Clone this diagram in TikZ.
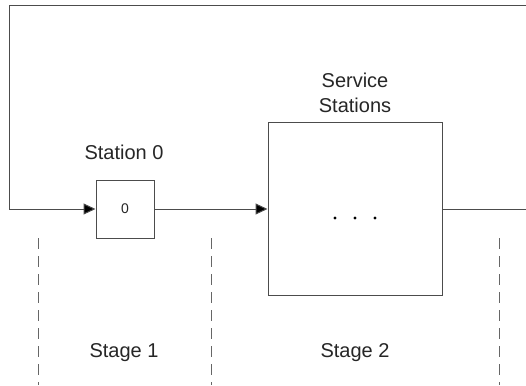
\documentclass[tikz,border=0pt]{standalone}
\usepackage{fontspec}
\setmainfont{Liberation Sans}
\usetikzlibrary{arrows.meta}
\begin{document}
\begin{tikzpicture}[x=1pt,y=-1pt,
  line/.style={draw=black!70, line width=1pt},
  flow/.style={line, -{Triangle[length=12pt,width=11pt,fill=black]}},
  box/.style={draw=black!70, line width=1pt, fill=white, inner sep=0pt},
  divider/.style={draw=black!60, line width=0.9pt, dash pattern=on 11pt off 7pt},
  lbl/.style={font=\fontsize{20}{25}\selectfont, text=black!85, align=center, inner sep=0pt}]
\useasboundingbox (0,0) rectangle (526,385);
% nodes
\node[box, minimum width=58pt, minimum height=58pt] (s0) at (125,209) {};
\node[lbl, font=\fontsize{14}{17}\selectfont] (s0t) at (125,209) {0};
\node[box, minimum width=174pt, minimum height=173pt] (ss) at (355,208.5) {};
\node[lbl] (s0lab) at (124,152) {Station 0};
\node[lbl] (sslab) at (355,93) {Service\\Stations};
\node[lbl] (st1) at (124,353) {Stage 1};
\node[lbl] (st2) at (355,353) {Stage 2};
% dots
\fill[black] (335,218) circle (1.7pt);
\fill[black] (355,218) circle (1.7pt);
\fill[black] (375,218) circle (1.7pt);
% coordinates
\coordinate (tr) at (526,6);
\coordinate (tl) at (9,6);
\coordinate (bl) at (9,209);
\coordinate (out) at (526,209);
% connectors
\draw[line] (tr) -- (tl) -- (bl);
\draw[flow] (bl) -- (s0.west);
\draw[flow] (s0.east) -- (ss.west |- s0.east);
\draw[line] (ss.east |- s0.east) -- (out);
% dividers
\coordinate (d1a) at (38,238); \coordinate (d1b) at (38,385);
\coordinate (d2a) at (211,238); \coordinate (d2b) at (211,385);
\coordinate (d3a) at (499,238); \coordinate (d3b) at (499,385);
\draw[divider] (d1a) -- (d1b);
\draw[divider] (d2a) -- (d2b);
\draw[divider] (d3a) -- (d3b);
\end{tikzpicture}
\end{document}
